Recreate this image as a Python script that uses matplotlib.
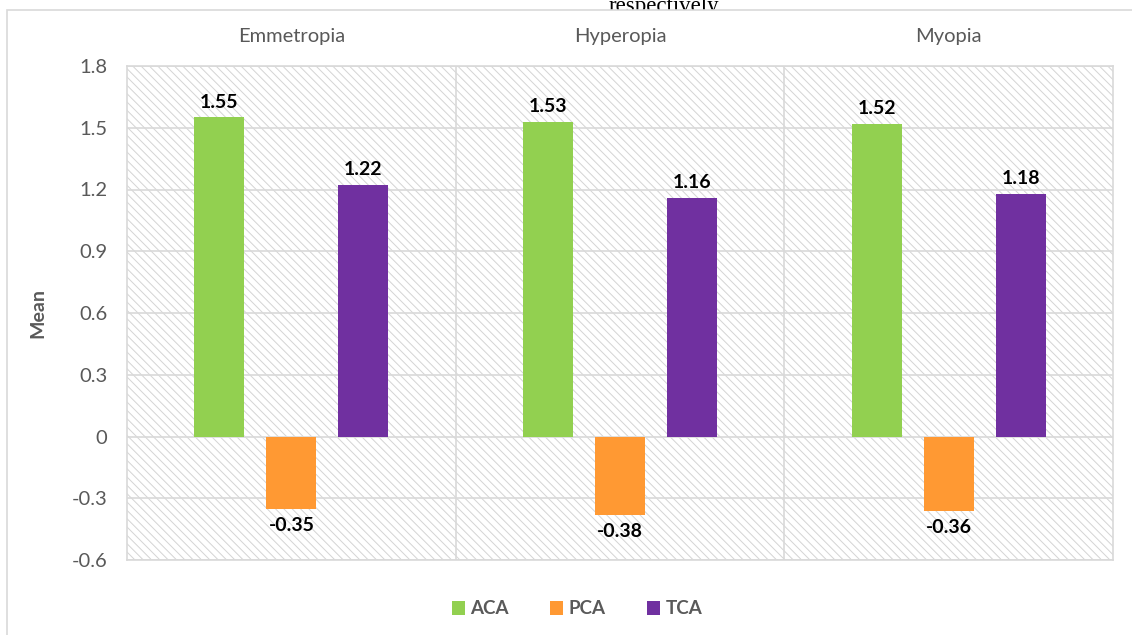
import matplotlib.pyplot as plt
import numpy as np
from matplotlib.patches import Rectangle, Patch

groups = ['Emmetropia', 'Hyperopia', 'Myopia']
aca = [1.55, 1.53, 1.52]
pca = [-0.35, -0.38, -0.36]
tca = [1.22, 1.16, 1.18]
series = [('ACA', aca, '#92d050'), ('PCA', pca, '#ff9933'), ('TCA', tca, '#7030a0')]
yticks = [-0.6, -0.3, 0, 0.3, 0.6, 0.9, 1.2, 1.5, 1.8]

plt.rcParams['font.family'] = ['Lato', 'DejaVu Sans']
plt.rcParams['hatch.color'] = '#d4d4d4'
plt.rcParams['hatch.linewidth'] = 0.7

grey = '#595959'
line = '#d9d9d9'

fig = plt.figure(figsize=(11.32, 6.35), dpi=100)

# caption fragment sitting behind the chart frame
fig.text(664 / 1132, 1 - 12 / 635, 'respectively', family='Liberation Serif',
         fontsize=16.5, ha='center', va='baseline', color='black', zorder=-2)
fig.patches.append(Rectangle((7 / 1132, -0.1), 1.2, 1.1 - 10 / 635,
                             transform=fig.transFigure, facecolor='white',
                             edgecolor=line, linewidth=1.2, zorder=-1))

ax = fig.add_axes([127 / 1132, 75 / 635, 986 / 1132, 494 / 635])
ax.set_xlim(0, 3)
ax.set_ylim(-0.6, 1.8)

# hatched plot background
ax.add_patch(Rectangle((0, -0.6), 3, 2.4, facecolor='white', edgecolor='#d4d4d4',
                       linewidth=0, hatch='\\\\\\\\', zorder=0.1))

for y in yticks:
    ax.axhline(y, color=line, linewidth=1.2, zorder=0.5)
for xv in [1, 2]:
    ax.axvline(xv, color=line, linewidth=1.2, zorder=0.5)

offsets = [-0.219, 0, 0.219]
width = 0.152
centers = np.arange(len(groups)) + 0.5
for (name, vals, col), off in zip(series, offsets):
    bars = ax.bar(centers + off, vals, width, color=col, zorder=2, label=name)
    for b, v in zip(bars, vals):
        if v >= 0:
            ax.annotate(f'{v:.2f}', (b.get_x() + b.get_width() / 2, v), xytext=(0, 5),
                        textcoords='offset points', ha='center', va='bottom',
                        fontsize=14, fontweight='bold', color='black')
        else:
            ax.annotate(f'{v:.2f}', (b.get_x() + b.get_width() / 2, v), xytext=(0, -6),
                        textcoords='offset points', ha='center', va='top',
                        fontsize=14, fontweight='bold', color='black')

for i, g in enumerate(groups):
    ax.text(i + 0.5, 1.8 + 29 / 205.8, g, ha='center', va='center', fontsize=14.5, color=grey)

ax.set_yticks(yticks)
ax.set_yticklabels(['-0.6', '-0.3', '0', '0.3', '0.6', '0.9', '1.2', '1.5', '1.8'])
ax.tick_params(axis='y', length=0, pad=14, labelsize=14.5, labelcolor=grey)
ax.set_xticks([])
for s in ax.spines.values():
    s.set_color(line)
    s.set_linewidth(1.2)
ax.set_ylabel('Mean', fontsize=14, fontweight='bold', color=grey)
ax.yaxis.set_label_coords(-81 / 986, 0.5)

handles = [Patch(facecolor=c, edgecolor='none', label=n) for n, _, c in series]
leg = fig.legend(handles=handles, loc='center', bbox_to_anchor=(577 / 1132, 26 / 635),
                 ncol=3, frameon=False, handlelength=0.7, handleheight=0.7,
                 handletextpad=0.3, columnspacing=2.2,
                 prop={'weight': 'bold', 'size': 13.5})
for t in leg.get_texts():
    t.set_color(grey)

fig.savefig('out.png', dpi=100)
